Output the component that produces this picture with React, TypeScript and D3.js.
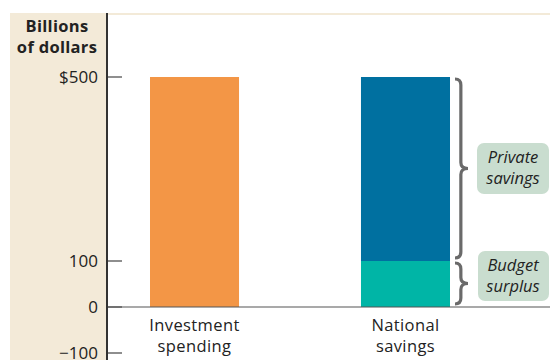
import React from "react";
import * as d3 from "d3";

const categories = ["Investment\nspending", "National\nsavings"];
const investment = [500];
const budgetSurplus = [100];
const privateSavings = [400];
const tickValues = [-100, 0, 100, 500];
const tickLabels = ["\u2212100", "0", "100", "$500"];

const W = 550, H = 360;
const axisX = 107;
const FONT = "'Open Sans', 'Noto Sans', sans-serif";

function bracePath(x: number, y0: number, y1: number, w: number) {
  const ym = (y0 + y1) / 2;
  const r = Math.min(6, (y1 - y0) / 6);
  const xm = x + w * 0.45;
  return `M${x},${y0} Q${xm},${y0} ${xm},${y0 + r} L${xm},${ym - r} Q${xm},${ym} ${x + w},${ym} Q${xm},${ym} ${xm},${ym + r} L${xm},${y1 - r} Q${xm},${y1} ${x},${y1}`;
}

export default function App() {
  const y = d3.scaleLinear().domain([0, 500]).range([307, 77]);
  const x = d3.scaleBand().domain(categories).range([107.8, 492.2]).paddingInner(0.578).paddingOuter(0.2);
  const bw = x.bandwidth();
  const invX = x(categories[0])!;
  const natX = x(categories[1])!;
  const surplusTop = y(budgetSurplus[0]);
  const privTop = y(budgetSurplus[0] + privateSavings[0]);
  const braceX = natX + bw + 5;

  return (
    <svg width={W} height={H} style={{ position: "absolute", left: 0, top: 0 }}>
      <rect x={0} y={0} width={W} height={H} fill="#fff" />
      <rect x={10} y={13} width={axisX - 10} height={H - 13} fill="#F3EAD8" />
      <rect x={axisX} y={13} width={W - axisX} height={2} fill="#F3EAD8" />
      <text x={57} y={32} textAnchor="middle" fontFamily={FONT} fontWeight="bold" fontSize={16.5} letterSpacing={0.3} fill="#222">Billions</text>
      <text x={57} y={53} textAnchor="middle" fontFamily={FONT} fontWeight="bold" fontSize={16.5} letterSpacing={0.3} fill="#222">of dollars</text>
      {tickValues.map((v, i) => (
        <g key={v}>
          <line x1={axisX} x2={122} y1={y(v)} y2={y(v)} stroke="#444" strokeWidth={1.2} />
          <text x={98} y={y(v) + 6} textAnchor="end" fontFamily={FONT} fontSize={17} fill="#222">{tickLabels[i]}</text>
        </g>
      ))}
      <rect x={invX} y={y(investment[0])} width={bw} height={y(0) - y(investment[0])} fill="#F39646" />
      <rect x={natX} y={surplusTop} width={bw} height={y(0) - surplusTop} fill="#00B5A6" />
      <rect x={natX} y={privTop} width={bw} height={surplusTop - privTop} fill="#0070A0" />
      <line x1={axisX} x2={W} y1={y(0)} y2={y(0)} stroke="#555" strokeWidth={1.2} />
      <line x1={axisX} x2={axisX} y1={13} y2={H} stroke="#333" strokeWidth={2} />
      {categories.map((c) => (
        <text key={c} textAnchor="middle" fontFamily={FONT} fontSize={16.5} letterSpacing={0.4} fill="#222">
          {c.split("\n").map((t, i) => (
            <tspan key={i} x={x(c)! + bw / 2} y={331 + i * 21}>{t}</tspan>
          ))}
        </text>
      ))}
      <path d={bracePath(braceX, privTop + 2, surplusTop - 3, 13)} fill="none" stroke="#6A6A6A" strokeWidth={3.2} />
      <path d={bracePath(braceX, surplusTop + 2, y(0) - 3, 13)} fill="none" stroke="#6A6A6A" strokeWidth={3.2} />
      <rect x={477} y={143} width={72} height={51} rx={7} fill="#C9DDCF" />
      <text textAnchor="middle" fontFamily={FONT} fontStyle="italic" fontSize={16.5} fill="#222">
        <tspan x={513} y={163}>Private</tspan>
        <tspan x={513} y={184}>savings</tspan>
      </text>
      <rect x={478} y={251} width={71} height={50} rx={7} fill="#C9DDCF" />
      <text textAnchor="middle" fontFamily={FONT} fontStyle="italic" fontSize={16.5} fill="#222">
        <tspan x={513} y={271}>Budget</tspan>
        <tspan x={513} y={292}>surplus</tspan>
      </text>
    </svg>
  );
}
